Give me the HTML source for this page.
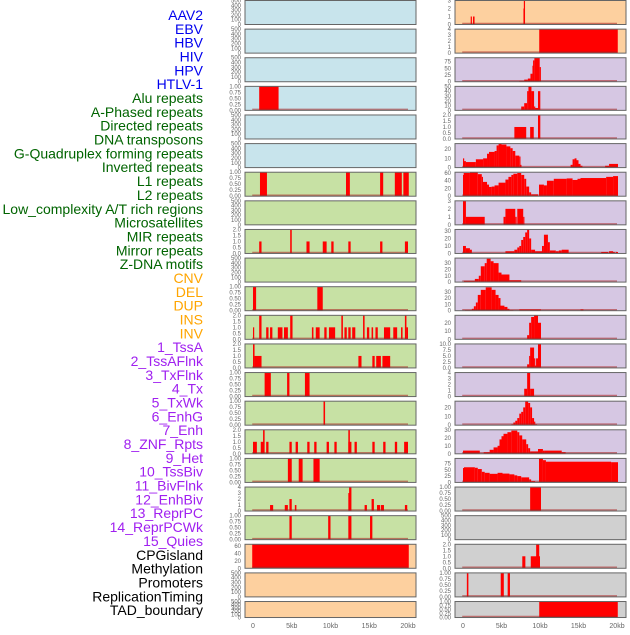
<!DOCTYPE html>
<html><head><meta charset="utf-8"><style>
body{margin:0;background:#fff;width:630px;height:630px;overflow:hidden}
svg text{font-family:"Liberation Sans",sans-serif}
</style></head><body>
<svg id="chart" width="630" height="630" xmlns="http://www.w3.org/2000/svg"></svg>
<script>
const labels=["AAV2","EBV","HBV","HIV","HPV","HTLV-1","Alu repeats","A-Phased repeats","Directed repeats","DNA transposons","G-Quadruplex forming repeats","Inverted repeats","L1 repeats","L2 repeats","Low_complexity A/T rich regions","Microsatellites","MIR repeats","Mirror repeats","Z-DNA motifs","CNV","DEL","DUP","INS","INV","1_TssA","2_TssAFlnk","3_TxFlnk","4_Tx","5_TxWk","6_EnhG","7_Enh","8_ZNF_Rpts","9_Het","10_TssBiv","11_BivFlnk","12_EnhBiv","13_ReprPC","14_ReprPCWk","15_Quies","CPGisland","Methylation","Promoters","ReplicationTiming","TAD_boundary"];
const labelGroups=[6,13,5,15,5];
const groupColors=["#0000ee","#006400","#ffa500","#a020f0","#000000"];
const xTicks=[0,5,10,15,20];
const xTickLabels=["0","5kb","10kb","15kb","20kb"];
const bgLeft=["b","b","b","b","b","b","g","g","g","g","g","g","g","g","g","g","g","g","g","p","p","p"];
const bgRight=["p","p","l","l","l","l","l","l","l","l","l","l","l","l","l","l","l","r","r","r","r","r"];
const ymaxLeft=[500,500,500,1,500,500,1,500,2,500,1,2,2,1,1,2,1,4,1,65,500,500];
const ymaxRight=[3,4,90,50,2,26,62,3,32,38,38,29,10,4,27,30,95,1,500,2,1,1];
const dataLeft=[[],[],[],[[0.8,3.3,1]],[],[],
[[0.9,1.8,1],[12.0,12.5,1],[16.4,16.8,1],[18.3,19.2,1],[19.4,20.1,1]],[],
[[0.8,1.1,1],[4.8,5.0,2],[6.9,7.3,1],[9.0,9.5,1],[10.1,10.4,1],[12.3,12.6,1],[16.4,16.7,1],[19.6,20.0,1]],[],
[[0,0.4,1],[8.3,9.0,1]],
[[0,0.15,1],[0.8,1.1,2],[1.7,2.0,1],[2.2,2.5,1],[3.2,3.8,1],[4.0,4.5,1],[4.8,5.1,2],[7.6,7.8,1],[8.1,8.6,1],[9.2,9.5,1],[9.8,10.6,1],[11.4,11.6,2],[11.8,12.1,1],[12.3,12.6,1],[12.8,13.2,1],[14.2,14.4,2],[14.7,15.0,1],[15.3,15.5,1],[15.8,16.1,1],[16.9,17.7,1],[18.1,18.6,1],[19.1,19.3,1],[19.6,19.8,2],[19.8,20.0,1]],
[[0,0.2,2],[0.2,1.1,1],[13.6,14.0,1],[15.4,15.7,1],[15.9,16.5,1],[16.7,17.7,1]],
[[1.5,2.3,1],[4.4,4.7,1],[6.7,7.3,1]],
[[9.1,9.3,1]],
[[0,0.5,1],[1.0,1.4,1],[1.3,1.5,2],[1.7,2.0,1],[4.7,5.0,1],[5.5,5.8,1],[7.0,7.3,1],[7.9,8.2,1],[9.5,9.8,1],[10.5,10.8,1],[12.3,12.5,2],[12.3,12.7,1],[13.1,13.4,1],[15.4,15.7,1],[16.8,17.1,1],[18.3,18.6,1],[19.5,20.0,1]],
[[4.5,5.0,1],[5.9,6.4,1],[7.8,8.6,1]],
[[2.2,2.6,1],[4.1,4.5,1],[4.7,5.0,2],[5.4,5.6,1],[12.3,12.5,3],[12.4,12.7,4],[14.4,14.7,1],[15.3,15.6,2],[16.0,16.4,1],[16.5,16.9,1],[19.6,19.9,1]],
[[4.7,5.0,1],[9.7,10.0,1],[12.3,12.7,1],[15.1,15.4,1]],
[[-0.1,20.1,65]],[],[]];
const dataRight=[
[[1.0,1.1,1],[1.3,1.5,1],[7.85,7.95,2],[7.9,8.05,3]],
[[9.9,20.1,4]],
[[7.31,7.95,3],[7.95,8.42,8],[8.42,8.76,12],[8.76,9.02,30],[9.02,9.1,60],[9.1,9.27,80],[9.27,9.96,90],[9.96,10.09,55]],
[[7.56,7.95,8],[7.95,8.33,15],[8.33,8.5,40],[8.5,8.89,50],[8.89,9.23,40],[9.23,9.36,8],[9.36,9.74,5],[9.74,10.04,40]],
[[6.67,8.21,1],[8.72,9.19,1],[9.74,10.04,2]],
[[0,0.09,10],[0.09,0.38,7],[0.38,1.67,6],[1.67,2.61,9],[2.61,3.12,10],[3.12,3.38,15],[3.38,4.1,17],[4.1,4.36,18],[4.36,4.62,24],[4.62,5.0,26],[5.0,5.64,25],[5.64,6.15,23],[6.15,6.45,21],[6.45,6.79,18],[6.79,7.31,13],[7.31,7.44,12],[7.44,7.56,3],[13.97,14.23,3],[14.23,14.49,9],[14.49,14.74,10],[14.74,15.0,8],[15.0,15.26,4],[15.26,15.51,2],[18.46,18.97,2],[18.97,20.13,4]],
[[0,0.09,55],[0.09,0.9,60],[0.9,1.92,62],[1.92,2.44,57],[2.44,2.56,50],[2.56,3.12,37],[3.12,3.38,30],[3.38,3.72,24],[3.72,4.1,25],[4.1,4.62,28],[4.62,5.51,35],[5.51,5.9,43],[5.9,6.28,50],[6.28,6.54,55],[6.54,7.05,58],[7.05,7.56,60],[7.56,7.95,55],[7.95,8.21,45],[8.21,8.59,25],[8.59,8.85,10],[8.85,9.74,5],[9.87,10.51,30],[10.51,10.9,28],[10.9,11.79,40],[11.79,13.46,45],[13.46,14.23,46],[14.23,14.87,42],[14.87,15.26,45],[15.26,18.59,47],[18.59,19.49,50],[19.49,20.13,52]],
[[0,0.38,3],[0.38,2.82,1],[5.26,5.51,1],[5.51,6.79,2],[6.79,6.97,1],[7.05,7.82,2],[7.82,7.95,1]],
[[0,0.38,10],[0.38,0.9,7],[0.9,1.15,5],[5.51,6.67,3],[6.67,7.05,5],[7.05,7.31,8],[7.31,7.56,10],[7.56,7.82,18],[7.82,8.08,22],[8.08,8.33,28],[8.33,8.59,32],[8.59,8.85,20],[8.85,9.36,5],[9.36,10.26,3],[10.26,10.51,10],[10.51,11.03,25],[11.03,11.28,15],[11.28,12.05,4],[12.05,12.44,3],[12.44,12.82,4],[12.82,13.72,5],[17.95,18.85,2],[18.97,19.49,3],[19.49,19.7,2],[19.87,20.13,2]],
[[0.13,1.54,2],[1.54,2.05,5],[2.05,2.31,10],[2.31,2.82,25],[2.82,3.08,30],[3.08,3.59,37],[3.59,3.97,33],[3.97,4.62,30],[4.62,5.0,15],[5.0,6.03,12],[6.03,7.56,3]],
[[0.26,1.15,1],[1.15,1.41,3],[1.41,1.67,7],[1.67,1.92,13],[1.92,2.31,25],[2.31,2.95,33],[2.95,3.72,37],[3.72,4.23,33],[4.23,4.62,25],[4.62,4.87,20],[4.87,5.38,8],[5.38,5.77,6],[5.77,6.03,3],[6.03,6.54,1],[7.31,10.13,2],[15.26,15.64,2]],
[[8.33,8.59,5],[8.59,8.85,20],[8.85,9.23,27],[9.23,9.74,29],[9.74,10.13,20]],
[[8.33,8.59,1.5],[8.59,8.72,5],[8.72,9.23,8.5],[9.23,9.36,4],[9.36,9.49,1],[9.49,9.74,4],[9.74,10.13,10]],
[[7.95,8.33,1.3],[8.33,8.72,4],[8.72,9.23,1.3]],
[[6.28,6.54,1],[6.54,6.79,3],[6.79,7.05,5],[7.05,7.31,8],[7.31,7.56,13],[7.56,7.82,15],[7.82,8.08,20],[8.08,8.46,27],[8.46,8.72,25],[8.72,8.97,20],[8.97,9.23,8],[9.23,9.36,4],[9.36,9.62,1]],
[[0,2.18,4],[2.69,3.46,2],[3.46,3.97,5],[3.97,4.49,8],[4.49,4.74,10],[4.74,5.0,18],[5.0,5.26,22],[5.26,5.77,25],[5.77,6.28,27],[6.28,7.05,29],[7.05,7.31,27],[7.31,7.69,23],[7.69,8.21,18],[8.21,8.46,12],[8.46,8.72,7],[8.72,9.74,3],[9.74,10.38,6],[10.38,10.64,4],[10.64,12.82,4],[12.82,13.33,2]],
[[0,0.13,57],[0.13,1.54,60],[1.54,1.92,58],[1.92,2.44,53],[2.44,2.82,42],[2.82,3.46,38],[3.46,4.49,34],[4.49,5.13,38],[5.13,6.03,35],[6.03,6.67,32],[6.67,7.05,28],[7.05,7.56,25],[7.56,8.59,20],[8.59,8.85,12],[8.85,9.36,5],[9.87,10.38,95],[10.38,10.77,88],[10.77,19.23,82],[19.23,20.13,80]],
[[8.72,10.13,1]],
[],
[[7.7,8.1,1],[8.8,10.0,1],[9.5,9.9,2]],
[[0.5,0.7,1],[4.9,5.3,1],[5.8,6.1,1]],
[[9.9,20.1,1]]];

const NS="http://www.w3.org/2000/svg";
const svg=document.getElementById('chart');
const bgColors={b:"#c8e4ec",g:"#c7e1a4",p:"#fdd09f",l:"#d6c7e3",r:"#d0d0d0"};
function mk(tag,attrs,parent){const e=document.createElementNS(NS,tag);for(const k in attrs)e.setAttribute(k,attrs[k]);(parent||svg).appendChild(e);return e;}
function tickSet(ymax){
  if(ymax===500)return [[0,"0"],[100,"100"],[200,"200"],[300,"300"],[400,"400"],[500,"500"]];
  if(ymax===1)return [[0,"0.00"],[0.25,"0.25"],[0.5,"0.50"],[0.75,"0.75"],[1,"1.00"]];
  if(ymax===2)return [[0,"0.0"],[0.5,"0.5"],[1,"1.0"],[1.5,"1.5"],[2,"2.0"]];
  if(ymax===10)return [[0,"0.0"],[2.5,"2.5"],[5,"5.0"],[7.5,"7.5"],[10,"10.0"]];
  if(ymax<=4){const t=[];for(let i=0;i<=ymax;i++)t.push([i,String(i)]);return t;}
  if(ymax>=85)return [[0,"0"],[25,"25"],[50,"50"],[75,"75"]];
  if(ymax>=60)return [[0,"0"],[20,"20"],[40,"40"],[60,"60"]];
  const t=[];for(let v=0;v<=ymax;v+=10)t.push([v,String(v)]);return t;
}
const cols=[{x0:245,x1:416,k0:253,k1:408,bg:bgLeft,ym:ymaxLeft,data:dataLeft,side:"left"},
            {x0:455,x1:626,k0:463,k1:617,bg:bgRight,ym:ymaxRight,data:dataRight,side:"right"}];
const rowStep=28.62;
cols.forEach(c=>{
  const xs=kb=>c.k0+(kb/20)*(c.k1-c.k0);
  for(let i=0;i<22;i++){
    const top=i*rowStep+0.5, h=(i===21)?16:24;
    const g=mk('g',{});
    
    
    mk('rect',{x:c.x0,y:top,width:c.x1-c.x0,height:h,fill:bgColors[c.bg[i]]},g);
    const ymax=c.ym[i];
    const ys=v=>top+h-(v/ymax)*h;
    c.data[i].forEach(s=>{
      const x1=Math.max(xs(s[0]),c.x0+1),x2=Math.min(xs(s[1]),c.x1-1);
      const r=mk('rect',{x:x1,y:ys(s[2]),width:Math.max(x2-x1,1.2),height:top+h-ys(s[2]),fill:"#ff0000"},g);
      
      
    });
    if(c.data[i].length)mk('line',{x1:xs(-0.1),x2:xs(20),y1:top+h-1,y2:top+h-1,stroke:"rgba(170,30,30,0.55)","stroke-width":1.5},g);
    mk('rect',{x:c.x0,y:top,width:c.x1-c.x0,height:h,fill:"none",stroke:"#666","stroke-width":1},g);
    tickSet(ymax).forEach(t=>{
      const tx=mk('text',{x:c.x0-4,y:ys(t[0])+2,"font-size":6,"text-anchor":"end",fill:"#666"},g);
      tx.textContent=t[1];
    });
  }
  xTicks.forEach((v,j)=>{
    const t=mk('text',{x:xs(v),y:628,"font-size":7,"text-anchor":"middle",fill:"#666"});
    
    
    t.textContent=xTickLabels[j];
  });
});
let idx=0;
labelGroups.forEach((n,gi)=>{
  for(let k=0;k<n;k++){
    const t=mk('text',{x:203,y:20+idx*13.84,"font-size":14,"text-anchor":"end",fill:groupColors[gi]});
    
    
    t.textContent=labels[idx];
    idx++;
  }
});
</script>
</body></html>
